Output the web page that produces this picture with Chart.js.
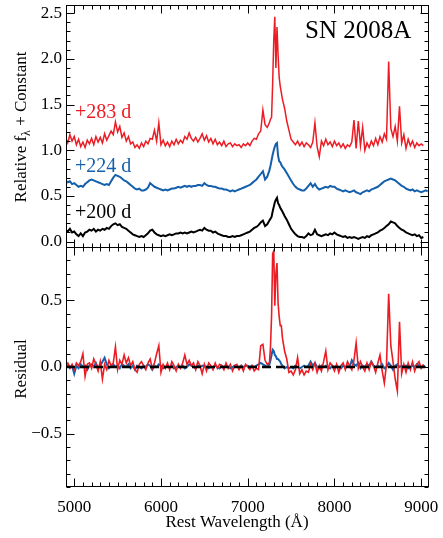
<!DOCTYPE html>
<html>
<head>
<meta charset="utf-8">
<script src="https://cdn.jsdelivr.net/npm/chart.js@4.4.0/dist/chart.umd.min.js"></script>
<style>
  html, body { margin: 0; padding: 0; background: #fff; }
  #wrap { position: relative; width: 443px; height: 538px; }
  #top { position: absolute; left: 0; top: 0; }
  #bot { position: absolute; left: 0; top: 240px; }
</style>
</head>
<body>
<div id="wrap">
  <canvas id="top" width="443" height="250"></canvas>
  <canvas id="bot" width="443" height="298"></canvas>
</div>
<script>
// Rest wavelength grid (Å), finer around the 7300 Å line
const wavelength = [
  4900, 4925, 4950, 4975,
  5000, 5025, 5050, 5075,
  5100, 5125, 5150, 5175,
  5200, 5225, 5250, 5275,
  5300, 5325, 5350, 5375,
  5400, 5425, 5450, 5475,
  5500, 5525, 5550, 5575,
  5600, 5625, 5650, 5675,
  5700, 5725, 5750, 5775,
  5800, 5825, 5850, 5875,
  5900, 5925, 5950, 5975,
  6000, 6025, 6050, 6075,
  6100, 6125, 6150, 6175,
  6200, 6225, 6250, 6275,
  6300, 6325, 6350, 6375,
  6400, 6425, 6450, 6475,
  6500, 6525, 6550, 6575,
  6600, 6625, 6650, 6675,
  6700, 6725, 6750, 6775,
  6800, 6825, 6850, 6875,
  6900, 6925, 6950, 6975,
  7000, 7025, 7050, 7075,
  7100, 7125, 7150, 7175,
  7200, 7225, 7250, 7262.5, 7275, 7287.5,
  7300, 7312.5, 7325, 7337.5, 7350, 7362.5, 7375, 7387.5,
  7400, 7425, 7450, 7475,
  7500, 7525, 7550, 7575,
  7600, 7625, 7650, 7675,
  7700, 7725, 7750, 7775,
  7800, 7825, 7850, 7875,
  7900, 7925, 7950, 7975,
  8000, 8025, 8050, 8075,
  8100, 8125, 8150, 8175,
  8200, 8225, 8250, 8275,
  8300, 8325, 8350, 8375,
  8400, 8425, 8450, 8475,
  8500, 8525, 8550, 8575,
  8600, 8625, 8650, 8675,
  8700, 8725, 8750, 8775,
  8800, 8825, 8850, 8875,
  8900, 8925, 8950, 8975,
  9000, 9025, 9050, 9075
];

// +200 d spectrum (black)
const spec200 = [
  0.13, 0.11, 0.14, 0.10,
  0.11, 0.08, 0.06, 0.09,
  0.06, 0.10, 0.11, 0.13,
  0.12, 0.14, 0.11, 0.13,
  0.12, 0.14, 0.13, 0.15,
  0.14, 0.17, 0.19, 0.20,
  0.18, 0.19, 0.16, 0.15,
  0.14, 0.12, 0.10, 0.08,
  0.07, 0.06, 0.05, 0.06,
  0.05, 0.07, 0.09, 0.12,
  0.13, 0.10, 0.08, 0.07,
  0.06, 0.07, 0.06, 0.07,
  0.08, 0.07, 0.08, 0.09,
  0.09, 0.10, 0.09, 0.10,
  0.09, 0.10, 0.11, 0.10,
  0.11, 0.12, 0.13, 0.12,
  0.15, 0.13, 0.12, 0.12,
  0.10, 0.11, 0.09, 0.08,
  0.07, 0.06, 0.06, 0.05,
  0.05, 0.06, 0.05, 0.06,
  0.06, 0.07, 0.08, 0.09,
  0.10, 0.11, 0.13, 0.15,
  0.16, 0.18, 0.21, 0.23,
  0.17, 0.19, 0.23, 0.25, 0.27, 0.33,
  0.38, 0.43, 0.46, 0.48, 0.42, 0.40, 0.37, 0.35,
  0.33, 0.28, 0.24, 0.19,
  0.14, 0.11, 0.08, 0.06,
  0.05, 0.05, 0.04, 0.06,
  0.09, 0.07, 0.08, 0.13,
  0.08, 0.07, 0.06, 0.07,
  0.08, 0.07, 0.09, 0.08,
  0.10, 0.08, 0.07, 0.06,
  0.05, 0.06, 0.04, 0.05,
  0.04, 0.05, 0.04, 0.03,
  0.04, 0.05, 0.04, 0.06,
  0.05, 0.07, 0.08, 0.09,
  0.10, 0.12, 0.13, 0.15,
  0.17, 0.19, 0.22, 0.21,
  0.20, 0.17, 0.15, 0.13,
  0.12, 0.10, 0.09, 0.08,
  0.07, 0.08, 0.06, 0.07,
  0.04, 0.05, null, null
];

// +224 d spectrum (blue)
const spec224 = [
  0.67, 0.65, 0.66, 0.63,
  0.64, 0.62, 0.60, 0.61,
  0.60, 0.63, 0.65, 0.67,
  0.68, 0.67, 0.66, 0.65,
  0.64, 0.63, 0.62, 0.63,
  0.62, 0.66, 0.70, 0.73,
  0.72, 0.71, 0.69, 0.67,
  0.66, 0.64, 0.62, 0.60,
  0.58, 0.57, 0.58, 0.56,
  0.56, 0.57, 0.59, 0.64,
  0.62, 0.60, 0.59, 0.58,
  0.57, 0.56, 0.57, 0.56,
  0.57, 0.58, 0.58, 0.59,
  0.60, 0.59, 0.60, 0.61,
  0.60, 0.61, 0.60, 0.61,
  0.61, 0.62, 0.62, 0.61,
  0.64, 0.62, 0.61, 0.61,
  0.60, 0.60, 0.59, 0.58,
  0.58, 0.57, 0.57, 0.56,
  0.55, 0.56, 0.55, 0.56,
  0.57, 0.58, 0.59, 0.60,
  0.61, 0.62, 0.64, 0.66,
  0.68, 0.71, 0.74, 0.77,
  0.68, 0.71, 0.78, 0.83, 0.89, 0.95,
  1.00, 1.04, 1.07, 1.08, 0.94, 0.88, 0.87, 0.84,
  0.82, 0.79, 0.75, 0.71,
  0.67, 0.63, 0.60, 0.58,
  0.57, 0.56, 0.56, 0.58,
  0.61, 0.64, 0.60, 0.63,
  0.59, 0.57, 0.58, 0.59,
  0.60, 0.59, 0.61, 0.60,
  0.60, 0.58, 0.57, 0.56,
  0.55, 0.56, 0.55, 0.54,
  0.55, 0.56, 0.54, 0.53,
  0.52, 0.54, 0.55, 0.56,
  0.55, 0.57, 0.58, 0.59,
  0.60, 0.62, 0.64, 0.66,
  0.67, 0.68, 0.69, 0.68,
  0.67, 0.65, 0.63, 0.61,
  0.60, 0.58, 0.57, 0.56,
  0.57, 0.55, 0.56, 0.55,
  0.54, 0.55, 0.56, 0.55
];

// +283 d spectrum (red)
const spec283 = [
  1.14, 1.08, 1.17, 1.10,
  1.15, 1.06, 1.12, 1.04,
  1.09, 1.03, 1.11, 1.07,
  1.13, 1.06, 1.15, 1.09,
  1.14, 1.08, 1.18, 1.11,
  1.16, 1.21, 1.17, 1.31,
  1.20, 1.26, 1.14, 1.19,
  1.10, 1.15, 1.07, 1.09,
  1.03, 1.06, 1.02, 1.08,
  1.04, 1.10, 1.07, 1.13,
  1.12, 1.22, 1.10, 1.30,
  1.06, 1.11, 1.05, 1.09,
  1.04, 1.10, 1.06, 1.12,
  1.07, 1.11, 1.08, 1.15,
  1.12, 1.19, 1.13, 1.10,
  1.14, 1.09, 1.13, 1.18,
  1.11, 1.16, 1.09, 1.13,
  1.07, 1.12, 1.06, 1.09,
  1.05, 1.10, 1.04, 1.07,
  1.08, 1.04, 1.07, 1.05,
  1.06, 1.03, 1.07, 1.05,
  1.08, 1.05, 1.10, 1.13,
  1.12, 1.18, 1.21, 1.44,
  1.28, 1.25, 1.30, 1.34, 1.36, 1.73,
  2.20, 2.46, 1.90, 2.35, 2.05, 1.80, 1.70, 1.63,
  1.56, 1.46, 1.32, 1.22,
  1.12, 1.09, 1.06, 1.10,
  1.05, 1.09, 1.04, 1.08,
  1.06, 1.03, 1.09, 1.30,
  1.04, 0.93, 1.10, 1.05,
  1.12, 1.06, 1.09, 1.04,
  1.10, 1.05, 1.08, 1.03,
  1.07, 1.02, 1.06, 1.04,
  1.09, 1.33, 1.02, 1.32,
  1.05, 1.25, 1.00, 1.08,
  1.03, 1.10, 1.05, 1.13,
  1.06, 1.15, 1.09, 1.18,
  1.12, 1.97, 1.24, 1.15,
  1.26, 1.10, 1.48, 1.08,
  1.17, 1.02, 1.12, 1.05,
  1.10, 1.03, 1.08, 1.05,
  1.07, 1.05, null, null
];

// residuals against +200 d
const res283 = [
  0.01, 0.03, -0.01, 0.02,
  -0.02, 0.03, 0.01, 0.04,
  0.10, -0.07, 0.02, 0.03,
  -0.01, 0.06, 0.02, -0.03,
  0.04, -0.09, 0.02, -0.02,
  0.05, 0.01, 0.03, 0.15,
  -0.02, 0.05, 0.02, 0.09,
  0.03, 0.07, 0.01, 0.04,
  -0.02, -0.04, 0.02, 0.04,
  0.01, -0.02, 0.03, 0.06,
  -0.01, 0.03, 0.10, 0.16,
  -0.04, 0.02, -0.01, 0.03,
  -0.02, 0.04, 0.01, -0.03,
  0.02, -0.01, 0.03, 0.09,
  0.02, 0.05, 0.01, 0.03,
  -0.02, 0.04, 0.01, -0.05,
  0.02, -0.03, 0.03, 0.01,
  -0.02, 0.03, -0.01, 0.02,
  0.01, -0.02, 0.03, -0.01,
  0.02, -0.03, 0.01, 0.02,
  -0.02, 0.01, -0.03, 0.02,
  0.00, -0.02, 0.01, -0.03,
  -0.01, -0.02, 0.16, 0.17,
  0.05, 0.02, 0.03, 0.15, 0.38, 0.85,
  0.87, 0.46, 0.70, 0.78, 0.48, 0.38, 0.31, 0.31,
  0.22, 0.12, 0.06, -0.04,
  -0.03, -0.06, -0.02, 0.07,
  -0.05, -0.02, -0.06, -0.03,
  -0.04, 0.02, -0.02, 0.03,
  -0.04, 0.01, -0.03, 0.04,
  0.12, -0.02, 0.03, 0.01,
  -0.03, 0.02, -0.04, 0.01,
  0.03, -0.02, 0.04, 0.01,
  -0.02, 0.05, 0.18, -0.01,
  0.04, 0.00, -0.03, 0.03,
  -0.02, 0.04, 0.01, -0.04,
  0.03, 0.09, -0.03, -0.12,
  0.02, 0.55, 0.16, 0.04,
  -0.09, -0.18, 0.34, -0.05,
  0.02, -0.04, 0.03, -0.02,
  0.04, -0.03, 0.02, 0.04,
  -0.01, 0.02, null, null
];

const res224 = [
  0.01, 0.02, 0.00, 0.01,
  -0.05, 0.01, -0.01, 0.02,
  0.00, 0.01, -0.02, 0.01,
  0.02, 0.00, 0.03, -0.01,
  0.01, 0.04, 0.07, 0.02,
  -0.01, 0.01, 0.02, 0.00,
  0.01, -0.01, 0.02, 0.01,
  0.00, 0.02, -0.01, 0.01,
  -0.02, 0.01, 0.00, -0.01,
  0.01, 0.00, 0.02, 0.01,
  -0.02, 0.01, 0.00, 0.02,
  0.01, -0.01, 0.00, 0.01,
  0.00, 0.01, -0.01, 0.00,
  0.01, 0.00, 0.01, -0.01,
  0.00, 0.02, 0.01, 0.00,
  -0.01, 0.01, 0.00, 0.01,
  0.01, 0.00, -0.01, 0.00,
  0.00, 0.01, 0.00, -0.01,
  0.01, 0.00, 0.01, 0.00,
  -0.01, 0.00, 0.01, 0.00,
  0.00, 0.01, 0.00, 0.01,
  0.01, 0.00, 0.01, 0.00,
  0.01, 0.02, 0.03, 0.02,
  0.01, 0.00, 0.02, 0.05, 0.09, 0.13,
  0.12, 0.09, 0.08, 0.06, 0.06, 0.05, 0.04, 0.02,
  0.01, -0.01, 0.00, -0.01,
  0.00, -0.01, 0.01, 0.00,
  -0.01, 0.00, 0.01, 0.00,
  0.01, 0.04, 0.01, 0.03,
  0.00, -0.01, 0.01, 0.00,
  0.01, 0.00, -0.01, 0.01,
  0.00, 0.01, 0.00, -0.01,
  0.01, 0.00, 0.01, 0.00,
  0.05, 0.02, 0.01, 0.03,
  -0.01, 0.01, 0.00, 0.02,
  0.01, 0.04, 0.01, 0.00,
  0.01, 0.00, 0.02, -0.01,
  0.00, 0.03, 0.01, -0.02,
  0.01, 0.02, 0.00, 0.01,
  0.00, 0.01, -0.01, 0.00,
  0.01, 0.00, 0.02, 0.01,
  0.00, 0.01, 0.00, null
];

const zeroX = [4905, 9060];
const zeroY = [0, 0];

const xTicks = [5000, 6000, 7000, 8000, 9000];
const yTopTicks = [0, 0.5, 1.0, 1.5, 2.0, 2.5];
const yBotTicks = [-0.5, 0, 0.5];

const FONT = "'Liberation Serif', 'Times New Roman', serif";
const RED = "#ec1c24";
const BLUE = "#1560ac";

function pts(xs, ys) {
  return xs.map((x, i) => ({ x, y: ys[i] }));
}
function fmt(v) {
  return (v < 0 ? "\u2212" : "") + Math.abs(v).toFixed(1);
}

// frame + inward ticks on all four sides
const frameTicks = {
  id: "frameTicks",
  afterDatasetsDraw(chart) {
    const { ctx, chartArea: a, scales } = chart;
    const xs = scales.x, ys = scales.y;
    const L = Math.round(a.left) + 0.5, R = Math.round(a.right) - 0.5;
    const T = Math.round(a.top) + 0.5, B = Math.round(a.bottom) - 0.5;
    ctx.save();
    ctx.strokeStyle = "#000";
    ctx.lineWidth = 1;
    ctx.strokeRect(L, T, R - L, B - T);
    ctx.beginPath();
    for (let w = 4900; w <= 9000; w += 100) {
      const px = Math.round(xs.getPixelForValue(w)) + 0.5;
      const len = w % 1000 === 0 ? 8 : 4;
      ctx.moveTo(px, B); ctx.lineTo(px, B - len);
      ctx.moveTo(px, T); ctx.lineTo(px, T + len);
    }
    for (let k = Math.ceil(ys.min * 10); k <= Math.floor(ys.max * 10); k++) {
      const py = Math.round(ys.getPixelForValue(k / 10)) + 0.5;
      const len = k % 5 === 0 ? 8 : 4;
      ctx.moveTo(L, py); ctx.lineTo(L + len, py);
      ctx.moveTo(R, py); ctx.lineTo(R - len, py);
    }
    ctx.stroke();
    ctx.restore();
  }
};

function rotatedTitle(ctx, x, y, parts) {
  // parts: [text, size, shift]
  let total = 0;
  const widths = parts.map(([t, size]) => {
    ctx.font = `${size}px ${FONT}`;
    const w = ctx.measureText(t).width;
    total += w;
    return w;
  });
  ctx.save();
  ctx.translate(x, y);
  ctx.rotate(-Math.PI / 2);
  ctx.fillStyle = "#000";
  ctx.textBaseline = "alphabetic";
  let pos = -total / 2;
  parts.forEach(([t, size, shift], i) => {
    ctx.font = `${size}px ${FONT}`;
    ctx.fillText(t, pos, shift);
    pos += widths[i];
  });
  ctx.restore();
}

const topText = {
  id: "topText",
  afterDraw(chart) {
    const ctx = chart.ctx;
    rotatedTitle(ctx, 26, 127, [["Relative f", 17, 0], ["\u03bb", 12, 4], [" + Constant", 17, 0]]);
    ctx.save();
    ctx.textBaseline = "alphabetic";
    ctx.font = `25px ${FONT}`;
    ctx.fillStyle = "#000";
    ctx.fillText("SN 2008A", 305, 38);
    ctx.font = `20px ${FONT}`;
    ctx.fillStyle = RED;
    ctx.fillText("+283 d", 75, 118);
    ctx.fillStyle = BLUE;
    ctx.fillText("+224 d", 75, 172);
    ctx.fillStyle = "#000";
    ctx.fillText("+200 d", 75, 218);
    ctx.restore();
  }
};

const botText = {
  id: "botText",
  afterDraw(chart) {
    const ctx = chart.ctx;
    rotatedTitle(ctx, 26, 129, [["Residual", 17, 0]]);
    ctx.save();
    ctx.font = `17px ${FONT}`;
    ctx.fillStyle = "#000";
    ctx.textAlign = "center";
    ctx.textBaseline = "alphabetic";
    ctx.fillText("Rest Wavelength (\u00c5)", 237, 287);
    ctx.restore();
  }
};

const yTickStyle = {
  color: "#000",
  font: { family: FONT, size: 17 },
  padding: 4,
  callback: v => fmt(v)
};

new Chart(document.getElementById("top"), {
  type: "line",
  data: {
    datasets: [
      { data: pts(wavelength, spec283), borderColor: RED, borderWidth: 1.5, order: 1 },
      { data: pts(wavelength, spec224), borderColor: BLUE, borderWidth: 2, order: 2 },
      { data: pts(wavelength, spec200), borderColor: "#000", borderWidth: 2, order: 3 }
    ]
  },
  options: {
    responsive: false,
    animation: false,
    devicePixelRatio: 1,
    layout: { padding: { top: 5, right: 14, bottom: 2, left: 0 } },
    elements: { point: { radius: 0 }, line: { tension: 0 } },
    plugins: { legend: { display: false }, tooltip: { enabled: false } },
    scales: {
      x: { type: "linear", min: 4905, max: 9090, display: false },
      y: {
        min: -0.07, max: 2.59,
        grid: { display: false, drawTicks: false },
        border: { display: false },
        ticks: yTickStyle,
        afterBuildTicks: s => { s.ticks = yTopTicks.map(v => ({ value: v })); },
        afterFit: s => { s.width = 66; s.paddingTop = 0; s.paddingBottom = 0; }
      }
    }
  },
  plugins: [frameTicks, topText]
});

new Chart(document.getElementById("bot"), {
  type: "line",
  data: {
    datasets: [
      { data: pts(zeroX, zeroY), borderColor: "#000", borderWidth: 2.5, borderDash: [9, 5], order: 0 },
      { data: pts(wavelength, res283), borderColor: RED, borderWidth: 1.6, order: 1 },
      { data: pts(wavelength, res224), borderColor: BLUE, borderWidth: 2, order: 2 }
    ]
  },
  options: {
    responsive: false,
    animation: false,
    devicePixelRatio: 1,
    layout: { padding: { top: 7, right: 14, bottom: 0, left: 0 } },
    elements: { point: { radius: 0 }, line: { tension: 0 } },
    plugins: { legend: { display: false }, tooltip: { enabled: false } },
    scales: {
      x: {
        type: "linear", min: 4905, max: 9090,
        grid: { display: false, drawTicks: false },
        border: { display: false },
        ticks: { color: "#000", font: { family: FONT, size: 17 }, padding: 10, maxRotation: 0, callback: v => String(v) },
        afterBuildTicks: s => { s.ticks = xTicks.map(v => ({ value: v })); },
        afterFit: s => { s.height = 51; s.paddingLeft = 0; s.paddingRight = 0; }
      },
      y: {
        min: -0.9, max: 0.9,
        grid: { display: false, drawTicks: false },
        border: { display: false },
        ticks: yTickStyle,
        afterBuildTicks: s => { s.ticks = yBotTicks.map(v => ({ value: v })); },
        afterFit: s => { s.width = 66; s.paddingTop = 0; s.paddingBottom = 0; }
      }
    }
  },
  plugins: [frameTicks, botText]
});
</script>
</body>
</html>
